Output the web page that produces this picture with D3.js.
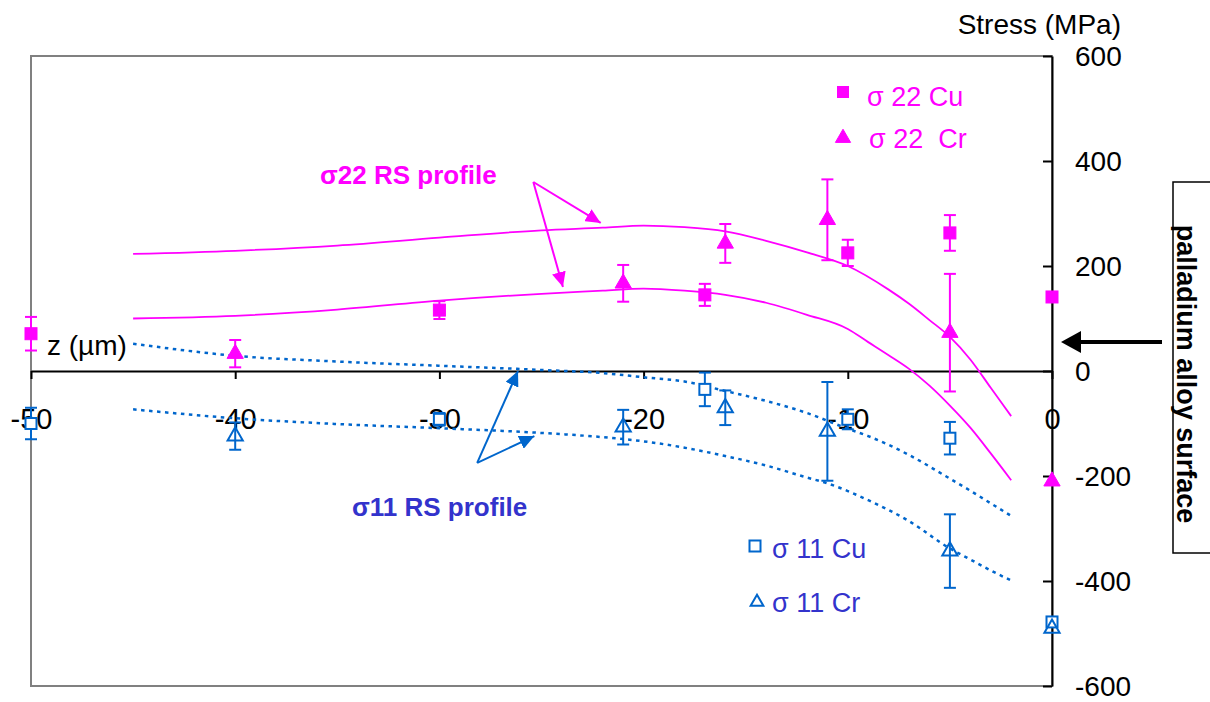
<!DOCTYPE html>
<html>
<head>
<meta charset="utf-8">
<script src="https://cdn.jsdelivr.net/npm/d3@7"></script>
<style>
  body { margin: 0; background: #fff; }
  svg { font-family: "Liberation Sans", Arial, sans-serif; }
</style>
</head>
<body>
<svg id="chart" width="1210" height="702"></svg>
<script>
// measured points: depth z (µm), stress (MPa), error bar half-height (MPa)
const cu22Z = [-50, -30, -17, -10, -5, 0];
const cu22S = [71, 116, 145, 225, 263, 141];
const cu22E = [32, 17, 21, 25, 34, 0];

const cr22Z = [-40, -21, -16, -11, -5, 0];
const cr22S = [33, 167, 243, 288, 73, -210];
const cr22E = [26, 35, 37, 77, 112, 0];

const cu11Z = [-50, -30, -17, -10, -5, 0];
const cu11S = [-100, -92, -35, -92, -128, -478];
const cu11E = [30, 12, 32, 19, 31, 0];

const cr11Z = [-40, -21, -16, -11, -5, 0];
const cr11S = [-124, -107, -70, -115, -343, -490];
const cr11E = [26, 33, 33, 94, 70, 0];

// RS profiles
const prof22aZ = [-45, -40, -35, -30, -25, -22, -20, -18, -16, -14, -12, -10, -8, -7, -6, -5, -4, -3, -2];
const prof22aS = [223, 229, 239, 254, 268, 273, 277, 274, 266, 248, 226, 200, 155, 128, 97, 65, 22, -32, -86];

const prof22bZ = [-45, -40, -35, -30, -25, -22, -20, -18, -16, -14, -12, -10, -9, -8, -7, -6, -5, -4, -3, -2];
const prof22bS = [100, 105, 117, 134, 147, 153, 157, 153, 145, 130, 107, 80, 55, 30, 4, -28, -66, -108, -157, -208];

const prof11aZ = [-45, -40, -35, -30, -25, -22, -20, -18, -16, -14, -12, -10, -9, -7, -5, -4, -3, -2];
const prof11aS = [52, 29, 18, 10, 2, -4, -12, -20, -38, -57, -80, -110, -124, -160, -205, -228, -252, -276];

const prof11bZ = [-45, -40, -35, -30, -25, -22, -20, -18, -16, -14, -12, -11, -9, -7, -5, -4, -3, -2];
const prof11bS = [-73, -90, -101, -109, -118, -126, -134, -146, -162, -180, -203, -214, -246, -286, -338, -359, -380, -399];

const xTicks = [-50, -40, -30, -20, -10, 0];
const yTicks = [600, 400, 200, 0, -200, -400, -600];

const magenta = "#FF00FF";
const blue = "#0066CC";
const blueText = "#3333CC";

let svg = d3.select("#chart");

let xScale = d3.scaleLinear().domain([-50, 0]).range([31, 1052]);
let yScale = d3.scaleLinear().domain([-600, 600]).range([686, 56]);

// plot area frame
svg.append("rect")
    .attr("x", 31).attr("y", 56)
    .attr("width", 1021).attr("height", 630)
    .attr("fill", "none")
    .attr("stroke", "#808080")
    .attr("stroke-width", 2);

// x axis through zero
let xAxis = svg.append("g")
    .attr("transform", `translate(0,${yScale(0)})`)
    .call(d3.axisBottom(xScale).tickValues(xTicks).tickFormat(d => d)
        .tickSize(8).tickSizeOuter(0).tickPadding(29));
xAxis.selectAll("path, line").attr("stroke", "#000").attr("stroke-width", 2);
xAxis.selectAll("text").attr("font-size", 29).attr("font-family", "Liberation Sans, Arial").attr("fill", "#000");

// stress axis on the right
let yAxis = svg.append("g")
    .attr("transform", `translate(${xScale(0)},0)`)
    .call(d3.axisRight(yScale).tickValues(yTicks).tickFormat(d => d)
        .tickSize(-9).tickSizeOuter(0).tickPadding(23));
yAxis.selectAll("path, line").attr("stroke", "#000").attr("stroke-width", 2);
yAxis.selectAll("text").attr("font-size", 28).attr("font-family", "Liberation Sans, Arial").attr("fill", "#000")
    .attr("dy", "0.34em");

svg.append("text")
    .attr("x", 1121).attr("y", 34)
    .attr("text-anchor", "end")
    .attr("font-size", 28)
    .text("Stress (MPa)");

svg.append("text")
    .attr("x", 47).attr("y", 355)
    .attr("font-size", 28)
    .text("z (µm)");

// profiles
function profile(zs, ss, color, dashed) {
    let line = d3.line()
        .x((d, i) => xScale(zs[i]))
        .y(d => yScale(d))
        .curve(d3.curveMonotoneX);
    let p = svg.append("path")
        .datum(ss)
        .attr("d", line)
        .attr("fill", "none")
        .attr("stroke", color)
        .attr("stroke-width", dashed ? 2.5 : 1.8);
    if (dashed) p.attr("stroke-dasharray", "3.5,4.5");
}
profile(prof22aZ, prof22aS, magenta, false);
profile(prof22bZ, prof22bS, magenta, false);
profile(prof11aZ, prof11aS, blue, true);
profile(prof11bZ, prof11bS, blue, true);

// error bars
function errorBars(zs, ss, es, color) {
    let g = svg.append("g").attr("stroke", color).attr("stroke-width", 2);
    ss.forEach((s, i) => {
        if (!es[i]) return;
        let cx = xScale(zs[i]);
        let y1 = yScale(s + es[i]), y2 = yScale(s - es[i]);
        g.append("line").attr("x1", cx).attr("x2", cx).attr("y1", y1).attr("y2", y2);
        g.append("line").attr("x1", cx - 6).attr("x2", cx + 6).attr("y1", y1).attr("y2", y1);
        g.append("line").attr("x1", cx - 6).attr("x2", cx + 6).attr("y1", y2).attr("y2", y2);
    });
}
errorBars(cu22Z, cu22S, cu22E, magenta);
errorBars(cr22Z, cr22S, cr22E, magenta);
errorBars(cu11Z, cu11S, cu11E, blue);
errorBars(cr11Z, cr11S, cr11E, blue);

function squares(g, pts, color, filled, s) {
    g.selectAll("rect").data(pts).enter().append("rect")
        .attr("x", d => d[0] - s / 2).attr("y", d => d[1] - s / 2)
        .attr("width", s).attr("height", s)
        .attr("fill", filled ? color : "#fff")
        .attr("stroke", color)
        .attr("stroke-width", filled ? 1 : 2);
}
function triangles(g, pts, color, filled, size) {
    g.selectAll("path").data(pts).enter().append("path")
        .attr("d", d3.symbol(d3.symbolTriangle, size)())
        .attr("transform", d => `translate(${d[0]},${d[1]})`)
        .attr("fill", filled ? color : "none")
        .attr("stroke", color)
        .attr("stroke-width", filled ? 1 : 2);
}

let markers = svg.append("g");
squares(markers.append("g"), cu22S.map((s, i) => [xScale(cu22Z[i]), yScale(s)]), magenta, true, 12);
triangles(markers.append("g"), cr22S.map((s, i) => [xScale(cr22Z[i]), yScale(s)]), magenta, true, 115);
squares(markers.append("g"), cu11S.map((s, i) => [xScale(cu11Z[i]), yScale(s)]), blue, false, 11);
triangles(markers.append("g"), cr11S.map((s, i) => [xScale(cr11Z[i]), yScale(s)]), blue, false, 100);

// legend
const legend22 = ["σ 22 Cu", "σ 22  Cr"];
const legend11 = ["σ 11 Cu", "σ 11 Cr"];
squares(svg.append("g"), [[843, 92]], magenta, true, 11);
triangles(svg.append("g"), [[843, 138]], magenta, true, 100);
squares(svg.append("g"), [[755, 546]], blue, false, 11);
triangles(svg.append("g"), [[757, 602]], blue, false, 70);
svg.append("text").attr("x", 867).attr("y", 106).attr("font-size", 27).attr("fill", magenta)
    .attr("xml:space", "preserve").style("white-space", "pre").text(legend22[0]);
svg.append("text").attr("x", 869).attr("y", 148).attr("font-size", 27).attr("fill", magenta)
    .attr("xml:space", "preserve").style("white-space", "pre").text(legend22[1]);
svg.append("text").attr("x", 772).attr("y", 558).attr("font-size", 27).attr("fill", blueText)
    .text(legend11[0]);
svg.append("text").attr("x", 772).attr("y", 612).attr("font-size", 27).attr("fill", blueText)
    .text(legend11[1]);

// annotations
let defs = svg.append("defs");
function arrowHead(id, color, len, half) {
    defs.append("marker")
        .attr("id", id)
        .attr("markerUnits", "userSpaceOnUse")
        .attr("viewBox", `0 ${-half} ${len} ${2 * half}`)
        .attr("refX", len).attr("refY", 0)
        .attr("markerWidth", len).attr("markerHeight", 2 * half)
        .attr("orient", "auto")
        .append("path")
        .attr("d", `M0,${-half}L${len},0L0,${half}Z`)
        .attr("fill", color);
}
arrowHead("headM", magenta, 15, 7);
arrowHead("headB", blue, 15, 7);

function arrow(from, to, color, head, width) {
    svg.append("line")
        .attr("x1", xScale(from[0])).attr("y1", yScale(from[1]))
        .attr("x2", xScale(to[0])).attr("y2", yScale(to[1]))
        .attr("stroke", color).attr("stroke-width", width)
        .attr("marker-end", `url(#${head})`);
}
arrow([-25.4, 360], [-22.1, 282], magenta, "headM", 2);
arrow([-25.4, 360], [-23.95, 160], magenta, "headM", 2);
arrow([-28.15, -175], [-26.15, 0], blue, "headB", 2);
arrow([-28.15, -175], [-25.35, -124], blue, "headB", 2);

svg.append("text")
    .attr("x", 320).attr("y", 184)
    .attr("font-size", 26).attr("font-weight", "bold")
    .attr("fill", magenta)
    .text("σ22 RS profile");

svg.append("text")
    .attr("x", 352).attr("y", 516)
    .attr("font-size", 26).attr("font-weight", "bold")
    .attr("fill", blueText)
    .text("σ11 RS profile");

// surface label box and arrow
svg.append("line")
    .attr("x1", 1162).attr("y1", 342).attr("x2", 1078).attr("y2", 342)
    .attr("stroke", "#000").attr("stroke-width", 4);
svg.append("path")
    .attr("d", "M1061,342L1081,331L1081,353Z")
    .attr("fill", "#000");

svg.append("rect")
    .attr("x", 1173).attr("y", 182)
    .attr("width", 60).attr("height", 371)
    .attr("fill", "#fff")
    .attr("stroke", "#000").attr("stroke-width", 1.5);

svg.append("text")
    .attr("transform", "translate(1186,374) rotate(90)")
    .attr("text-anchor", "middle")
    .attr("dominant-baseline", "central")
    .attr("font-size", 27).attr("font-weight", "bold")
    .text("palladium alloy surface");
</script>
</body>
</html>
